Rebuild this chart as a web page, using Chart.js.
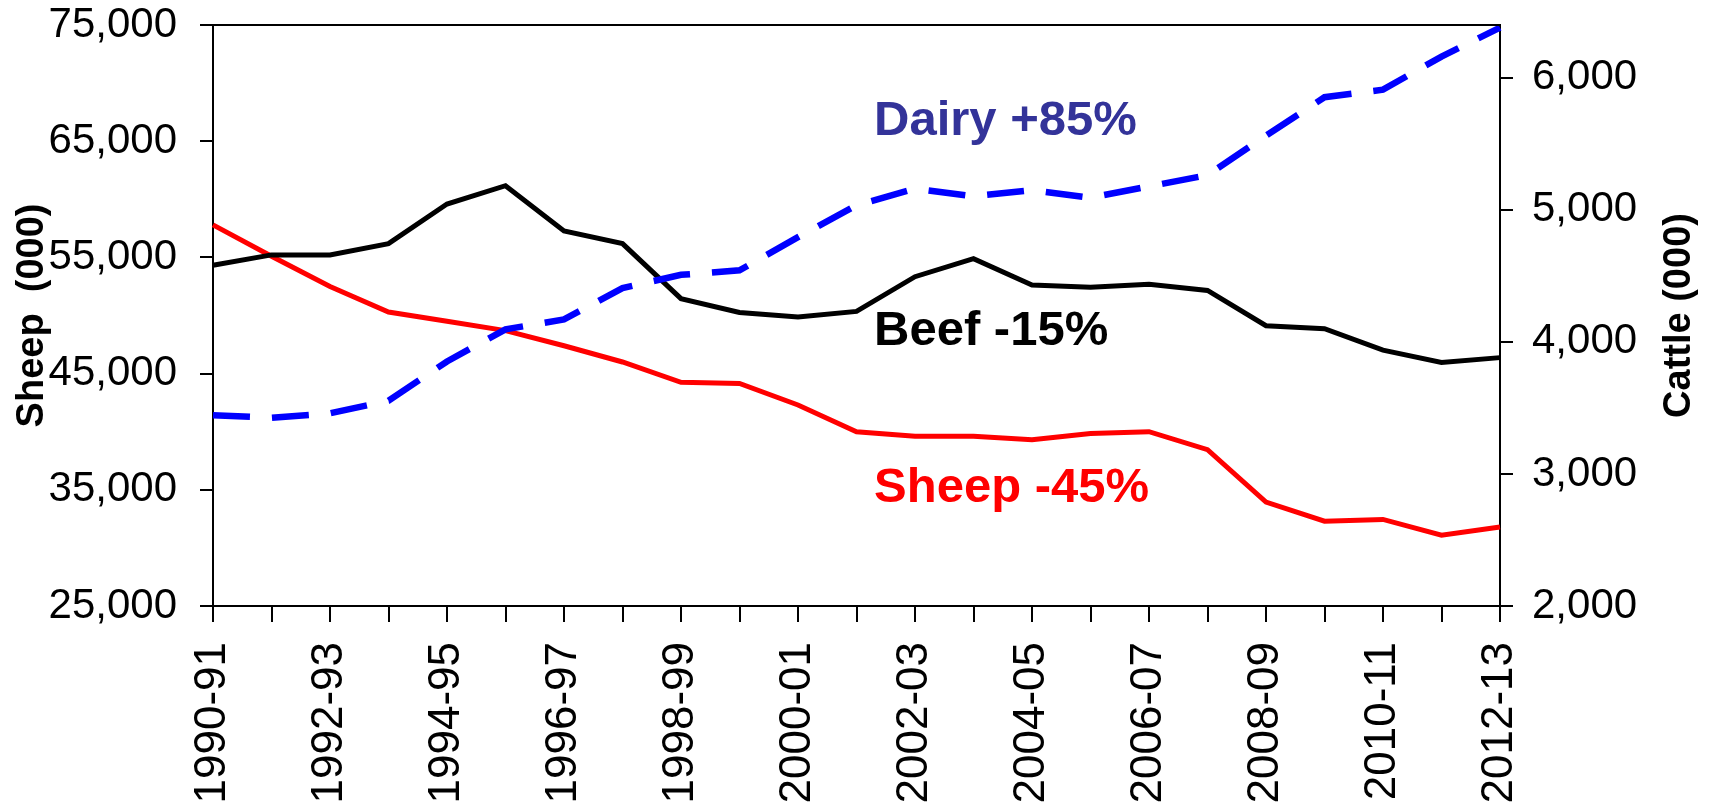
<!DOCTYPE html>
<html>
<head>
<meta charset="utf-8">
<script src="https://cdn.jsdelivr.net/npm/chart.js@4/dist/chart.umd.min.js"></script>
<style>
  html, body { margin: 0; padding: 0; background: #fff; }
  #wrap { width: 1713px; height: 809px; position: relative; }
</style>
</head>
<body>
<div id="wrap"><canvas id="c"></canvas></div>
<script>
// ---- Data ----
const categories = ['1990-91','1991-92','1992-93','1993-94','1994-95','1995-96','1996-97','1997-98',
  '1998-99','1999-00','2000-01','2001-02','2002-03','2003-04','2004-05','2005-06','2006-07',
  '2007-08','2008-09','2009-10','2010-11','2011-12','2012-13'];

// Sheep (000), left axis
const sheep = [57800, 55100, 52500, 50300, 49500, 48700, 47400, 46000, 44250, 44150, 42300, 40000,
  39600, 39600, 39300, 39850, 40000, 38450, 33950, 32300, 32450, 31100, 31800];

// Beef cattle (000), right axis
const beef = [4580, 4659, 4659, 4744, 5044, 5183, 4841, 4744, 4328, 4223, 4189, 4231,
  4494, 4630, 4431, 4414, 4437, 4390, 4123, 4100, 3938, 3844, 3881];

// Dairy cattle (000), right axis
const dairy = [3445, 3425, 3459, 3555, 3852, 4095, 4170, 4408, 4508, 4542, 4793, 5035,
  5160, 5103, 5149, 5092, 5178, 5263, 5562, 5853, 5910, 6161, 6380];

const sheepTicks = [25000, 35000, 45000, 55000, 65000, 75000];
const cattleTicks = [2000, 3000, 4000, 5000, 6000];
const sheepRange = [25000, 75000];
const cattleRange = [2000, 6400];

// Annotation labels (x as category index, y in sheep-axis units)
const annoText = ['Dairy +85%', 'Beef -15%', 'Sheep -45%'];
const annoColor = ['#333399', '#000000', '#ff0000'];
const annoX = [11.3, 11.3, 11.3];
const annoY = [65500, 47450, 33950];

// ---- Chart ----
const FONT = "'Liberation Sans', Arial, Helvetica, sans-serif";
Chart.defaults.font.family = FONT;
Chart.defaults.color = '#000';

const fmt = v => Number(v).toLocaleString('en-US');

const overlay = {
  id: 'overlay',
  afterDraw(chart) {
    const { ctx, chartArea: a, scales } = chart;
    ctx.save();
    // top border of plot
    ctx.strokeStyle = '#000';
    ctx.lineWidth = 2;
    ctx.beginPath();
    ctx.moveTo(a.left, a.top);
    ctx.lineTo(a.right, a.top);
    ctx.stroke();

    // right axis title (reads bottom-to-top)
    const t = scales.y1.options.title;
    ctx.fillStyle = '#000';
    ctx.font = 'bold 38px ' + FONT;
    ctx.textAlign = 'center';
    ctx.textBaseline = 'middle';
    ctx.translate(scales.y1.right - 33, (a.top + a.bottom) / 2);
    ctx.rotate(-Math.PI / 2);
    ctx.fillText(t.text, 0, 0);
    ctx.restore();

    // annotations
    ctx.save();
    ctx.font = 'bold 49px ' + FONT;
    ctx.textAlign = 'left';
    ctx.textBaseline = 'alphabetic';
    for (let i = 0; i < annoText.length; i++) {
      ctx.fillStyle = annoColor[i];
      ctx.fillText(annoText[i], scales.x.getPixelForValue(annoX[i]), scales.y.getPixelForValue(annoY[i]));
    }
    ctx.restore();
  }
};

const noPad = s => { s.paddingTop = 0; s.paddingBottom = 0; s.paddingLeft = 0; s.paddingRight = 0; };

new Chart(document.getElementById('c'), {
  type: 'line',
  data: {
    labels: categories,
    datasets: [
      { label: 'Sheep', data: sheep, yAxisID: 'y', borderColor: '#ff0000', borderWidth: 5,
        pointRadius: 0, tension: 0, order: 2 },
      { label: 'Beef', data: beef, yAxisID: 'y1', borderColor: '#000000', borderWidth: 5,
        pointRadius: 0, tension: 0, order: 1 },
      { label: 'Dairy', data: dairy, yAxisID: 'y1', borderColor: '#0000ff', borderWidth: 6.5,
        borderDash: [37, 22], pointRadius: 0, tension: 0, order: 0 }
    ]
  },
  options: {
    responsive: true,
    maintainAspectRatio: false,
    animation: false,
    events: [],
    layout: { padding: { top: 25, left: 0, right: 0, bottom: 0 } },
    plugins: { legend: { display: false }, tooltip: { enabled: false } },
    scales: {
      x: {
        type: 'category',
        offset: false,
        grid: { drawOnChartArea: false, drawTicks: true, tickLength: 16, color: '#000', lineWidth: 2 },
        border: { display: true, color: '#000', width: 2 },
        ticks: {
          autoSkip: false, minRotation: 90, maxRotation: 90, padding: 20,
          font: { size: 44 }, color: '#000',
          callback: function (v, i) { return i % 2 === 0 ? this.getLabelForValue(v) : ''; }
        },
        afterFit: s => { s.height = 203; noPad(s); }
      },
      y: {
        position: 'left',
        min: sheepRange[0], max: sheepRange[1],
        afterBuildTicks: s => { s.ticks = sheepTicks.map(v => ({ value: v })); },
        grid: { drawOnChartArea: false, drawTicks: true, tickLength: 13, color: '#000', lineWidth: 2 },
        border: { display: true, color: '#000', width: 2 },
        ticks: { padding: 23, font: { size: 42 }, color: '#000', callback: fmt },
        title: { display: true, text: 'Sheep  (000)', font: { size: 38, weight: 'bold' }, color: '#000',
                 padding: { top: 10, bottom: 0 } },
        afterFit: s => { s.width = 213; noPad(s); }
      },
      y1: {
        position: 'right',
        min: cattleRange[0], max: cattleRange[1],
        afterBuildTicks: s => { s.ticks = cattleTicks.map(v => ({ value: v })); },
        grid: { drawOnChartArea: false, drawTicks: true, tickLength: 13, color: '#000', lineWidth: 2 },
        border: { display: true, color: '#000', width: 2 },
        ticks: { padding: 19, font: { size: 42 }, color: '#000', callback: fmt },
        title: { display: false, text: 'Cattle (000)' },
        afterFit: s => { s.width = 213; noPad(s); }
      }
    }
  },
  plugins: [overlay]
});
</script>
</body>
</html>
